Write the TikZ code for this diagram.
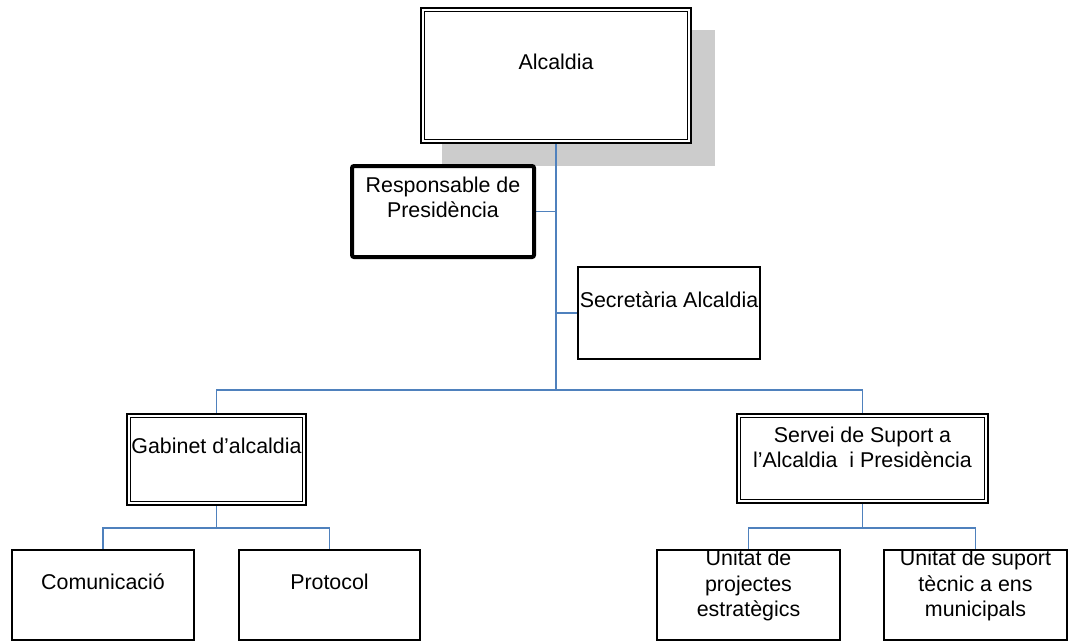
\documentclass[tikz,border=0pt]{standalone}
\usepackage{fontspec}
\setmainfont{Liberation Sans}
\usetikzlibrary{backgrounds}
\definecolor{linkblue}{RGB}{79,129,189}
\definecolor{shadowgray}{RGB}{204,204,204}
\begin{document}
\begin{tikzpicture}[x=1pt,y=-1pt,
	box/.style={draw, fill=white, line width=1.3pt, outer sep=0pt, inner sep=0pt},
	dbox/.style={box, line width=1.6pt, double=white, double distance=2.2pt},
	bbox/.style={box, line width=4pt, rounded corners=2pt},
	lbl/.style={anchor=north, align=center, inner sep=0pt, font=\fontsize{21.4}{25.5}\selectfont},
	conn/.style={draw=linkblue, line width=1.8pt}]
	\useasboundingbox (0,0) rectangle (1068,641);

	% top
	\node[dbox, minimum width=266.5pt, minimum height=131.5pt,
		label={[lbl, yshift=-43.7pt]north:Alcaldia}] (alc) at (556,75.5) {};
	\node[bbox, minimum width=182pt, minimum height=91pt,
		label={[lbl, yshift=-10.5pt]north:Responsable de\\Presidència}] (resp) at (443,211.5) {};
	\node[box, minimum width=182pt, minimum height=92pt,
		label={[lbl, yshift=-24.5pt]north:Secretària Alcaldia}] (sec) at (669,313) {};

	% middle
	\node[dbox, minimum width=175.5pt, minimum height=87.5pt,
		label={[lbl, yshift=-21.7pt]north:Gabinet d’alcaldia}] (gab) at (216.5,459.5) {};
	\node[dbox, minimum width=247.5pt, minimum height=85.5pt,
		label={[lbl, yshift=-10.7pt]north:Servei de Suport a\\l’Alcaldia~ i Presidència}] (serv) at (862.5,458.5) {};

	% bottom
	\node[box, minimum width=182pt, minimum height=90pt,
		label={[lbl, yshift=-23.5pt]north:Comunicació}] (com) at (103,595) {};
	\node[box, minimum width=181pt, minimum height=90pt,
		label={[lbl, yshift=-23.5pt]north:Protocol}] (prot) at (329.5,595) {};
	\node[box, minimum width=183pt, minimum height=90pt,
		label={[lbl, yshift=0pt]north:Unitat de\\projectes\\estratègics}] (proj) at (748.5,595) {};
	\node[box, minimum width=183pt, minimum height=90pt,
		label={[lbl, yshift=0pt]north:Unitat de suport\\tècnic a ens\\municipals}] (tec) at (975.5,595) {};

	\coordinate (hub) at (556,390);
	\coordinate (gabhub) at (216.5,528);
	\coordinate (servhub) at (862.5,528);

	\begin{scope}[on background layer]
		% shadow
		\fill[shadowgray] ([shift={(19.25,20.25)}]alc.north west) rectangle ([shift={(25.75,24.75)}]alc.south east);
		% links
		\draw[conn] (alc.south) -- (hub);
		\draw[conn] (resp.east) -- (resp.east -| hub);
		\draw[conn] (sec.west) -- (sec.west -| hub);
		\draw[conn] (gab.north) |- (hub) -| (serv.north);
		\draw[conn] (gab.south) -- (gabhub);
		\draw[conn] (com.north) |- (gabhub) -| (prot.north);
		\draw[conn] (serv.south) -- (servhub);
		\draw[conn] (proj.north) |- (servhub) -| (tec.north);
	\end{scope}
\end{tikzpicture}
\end{document}
